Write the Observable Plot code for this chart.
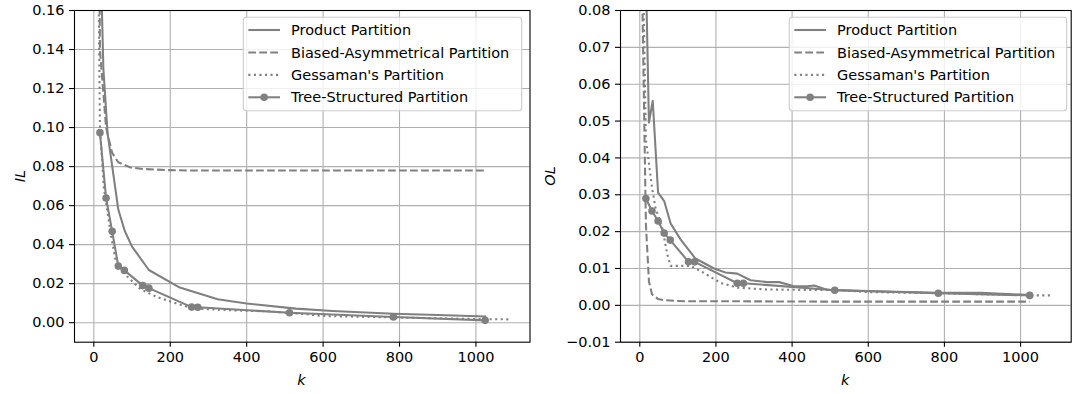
<!DOCTYPE html>
<html><head><meta charset="utf-8">
<script src="https://cdn.jsdelivr.net/npm/d3@7"></script>
<script src="https://cdn.jsdelivr.net/npm/@observablehq/plot@0.6"></script>
<style>
body{margin:0;background:#fff;}
#wrap{display:flex;width:1076px;height:394px;}
</style></head><body><div id="wrap"></div>
<script>
const seriesNames = ["Product Partition", "Biased-Asymmetrical Partition", "Gessaman's Partition", "Tree-Structured Partition"];

// Left panel: IL
const ilProductK = [16, 25, 36, 49, 64, 81, 100, 144, 225, 324, 400, 529, 625, 784, 900, 1024];
const ilProductV = [0.2, 0.13, 0.097, 0.079, 0.058, 0.047, 0.039, 0.027, 0.018, 0.012, 0.0098, 0.0072, 0.006, 0.0046, 0.0039, 0.0032];
const ilBiasedK = [4, 16, 32, 48, 64, 96, 128, 192, 256, 512, 1024];
const ilBiasedV = [0.5, 0.14, 0.1, 0.087, 0.0822, 0.0795, 0.0788, 0.0782, 0.078, 0.078, 0.078];
const ilGessK = [4, 16, 26, 44, 57, 80, 122, 166, 218, 262, 367, 454, 541, 603, 784, 1024, 1087];
const ilGessV = [0.34, 0.1, 0.0695, 0.0456, 0.032, 0.025, 0.0172, 0.0131, 0.0097, 0.0072, 0.0063, 0.0058, 0.0046, 0.0034, 0.0027, 0.0018, 0.0017];
const ilTreeK = [16, 32, 48, 64, 80, 128, 144, 256, 272, 512, 784, 1024];
const ilTreeV = [0.0974, 0.0639, 0.0468, 0.029, 0.0268, 0.019, 0.0177, 0.008, 0.0079, 0.0051, 0.0029, 0.0012];

// Right panel: OL
const olProductK = [16, 24, 34, 48, 64, 81, 107, 146, 195, 225, 256, 291, 335, 366, 405, 440, 458, 493, 600, 784, 896, 1024];
const olProductV = [0.09, 0.0496, 0.0555, 0.0306, 0.0283, 0.0222, 0.0179, 0.0127, 0.010, 0.0089, 0.0086, 0.0068, 0.0063, 0.0063, 0.0052, 0.0052, 0.0054, 0.0042, 0.0039, 0.0034, 0.0034, 0.0028];
const olBiasedK = [4, 16, 24, 32, 48, 64, 96, 128, 256, 512, 1024];
const olBiasedV = [0.1, 0.022, 0.0065, 0.003, 0.0017, 0.0014, 0.0012, 0.0011, 0.0011, 0.001, 0.001];
const olGessK = [4, 16, 32, 41, 59, 72, 81, 133, 160, 212, 256, 335, 423, 510, 598, 784, 1024, 1079];
const olGessV = [0.12, 0.045, 0.032, 0.0265, 0.021, 0.0139, 0.0107, 0.0107, 0.0093, 0.0061, 0.0048, 0.0043, 0.0042, 0.0042, 0.0036, 0.0033, 0.0027, 0.0027];
const olTreeK = [16, 32, 48, 64, 80, 128, 144, 256, 272, 512, 784, 1024];
const olTreeV = [0.029, 0.0256, 0.0229, 0.0196, 0.0177, 0.0118, 0.0118, 0.006, 0.006, 0.0041, 0.0033, 0.0027];

const xTicks = [0, 200, 400, 600, 800, 1000];
const ilTicks = [0, 0.02, 0.04, 0.06, 0.08, 0.10, 0.12, 0.14, 0.16];
const olTicks = [-0.01, 0, 0.01, 0.02, 0.03, 0.04, 0.05, 0.06, 0.07, 0.08];

const GRAY = "#808080";
const LW = 2.08;
const FONT = "DejaVu Sans";
const FS = 14.5;
const dashes = ["none", "7.7,3.3", "2.1,3.45", "none"];

function rows(name, ks, vs) { return ks.map((k, i) => ({series: name, k, v: vs[i]})); }

function makePanel(cfg) {
  const sets = [
    rows(seriesNames[0], cfg.pk, cfg.pv),
    rows(seriesNames[1], cfg.bk, cfg.bv),
    rows(seriesNames[2], cfg.gk, cfg.gv),
    rows(seriesNames[3], cfg.tk, cfg.tv)
  ];
  const marks = [
    Plot.gridX(xTicks, {stroke: "#b0b0b0", strokeOpacity: 1, strokeWidth: 1.1}),
    Plot.gridY(cfg.yTicks, {stroke: "#b0b0b0", strokeOpacity: 1, strokeWidth: 1.1}),
    Plot.axisX({ticks: xTicks, tickSize: 5, tickPadding: 5, label: null, tickFormat: d3.format("d"), strokeWidth: 1.1}),
    Plot.axisY({ticks: cfg.yTicks, tickSize: 5, tickPadding: 5, label: null, tickFormat: cfg.fmt, strokeWidth: 1.1})
  ];
  sets.forEach((d, i) => {
    marks.push(Plot.line(d, {x: "k", y: "v", stroke: GRAY, strokeWidth: LW, strokeDasharray: dashes[i],
      strokeLinecap: i === 1 || i === 2 ? "butt" : "square", strokeLinejoin: "round", clip: true}));
  });
  marks.push(Plot.dot(sets[3], {x: "k", y: "v", r: 3.8, fill: GRAY, stroke: "none", clip: true}));
  marks.push(Plot.frame({stroke: "black", strokeWidth: 1.1}));

  const svg = Plot.plot({
    width: 538, height: 394,
    marginTop: 10, marginBottom: 52.3, marginLeft: cfg.ml, marginRight: cfg.mr,
    x: {domain: cfg.xDomain},
    y: {domain: cfg.yDomain},
    style: {fontFamily: FONT, fontSize: FS + "px", color: "black", background: "white", overflow: "visible"},
    marks
  });

  const s = d3.select(svg);
  // axis labels
  s.append("text").attr("transform", `translate(${cfg.ylx},176) rotate(-90)`)
    .attr("text-anchor", "middle").attr("dy", "0.35em")
    .attr("font-family", FONT).attr("font-size", FS).attr("font-style", "italic").attr("fill", "black")
    .text(cfg.ylabel);
  s.append("text").attr("x", cfg.xlx).attr("y", 385)
    .attr("text-anchor", "middle")
    .attr("font-family", FONT).attr("font-size", FS).attr("font-style", "italic").attr("fill", "black")
    .text("k");

  // legend
  const g = s.append("g");
  g.append("rect").attr("x", cfg.lx).attr("y", 17.3).attr("width", cfg.lw).attr("height", 93.4).attr("rx", 3)
    .attr("fill", "white").attr("fill-opacity", 0.8).attr("stroke", "#cccccc").attr("stroke-width", 1.1);
  seriesNames.forEach((name, i) => {
    const y = 30 + i * 22.43;
    g.append("line").attr("x1", cfg.lx + 5).attr("x2", cfg.lx + 36.7).attr("y1", y).attr("y2", y)
      .attr("stroke", GRAY).attr("stroke-width", LW)
      .attr("stroke-dasharray", dashes[i] === "none" ? null : dashes[i])
      .attr("stroke-linecap", "butt");
    if (i === 3) g.append("circle").attr("cx", cfg.lx + 20.85).attr("cy", y).attr("r", 3.8).attr("fill", GRAY);
    g.append("text").attr("x", cfg.lx + 47.7).attr("y", y).attr("dy", "0.35em")
      .attr("text-anchor", "start")
      .attr("font-family", FONT).attr("font-size", FS).attr("fill", "black").text(name);
  });
  return svg;
}

const wrap = document.getElementById("wrap");
wrap.appendChild(makePanel({
  pk: ilProductK, pv: ilProductV, bk: ilBiasedK, bv: ilBiasedV, gk: ilGessK, gv: ilGessV, tk: ilTreeK, tv: ilTreeV,
  yTicks: ilTicks, fmt: d3.format(".2f"), xDomain: [-50.6, 1141.5], yDomain: [-0.01, 0.16],
  ml: 74, mr: 8.5, ylabel: "IL", ylx: 20, xlx: 301.5, lx: 243.3, lw: 278.4
}));
wrap.appendChild(makePanel({
  pk: olProductK, pv: olProductV, bk: olBiasedK, bv: olBiasedV, gk: olGessK, gv: olGessV, tk: olTreeK, tv: olTreeV,
  yTicks: olTicks, fmt: d3.format(".2f"), xDomain: [-50.7, 1133], yDomain: [-0.01, 0.08],
  ml: 82, mr: 5.3, ylabel: "OL", ylx: 12, xlx: 307.3, lx: 251.3, lw: 277.4
}));
</script></body></html>
